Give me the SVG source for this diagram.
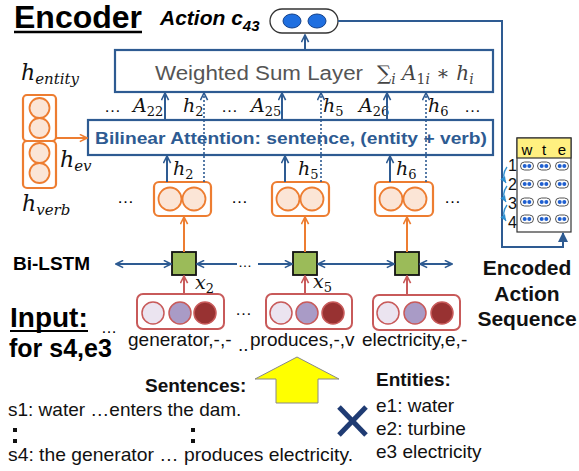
<svg xmlns="http://www.w3.org/2000/svg" width="579" height="471" viewBox="0 0 579 471">
<style>
.sans{font-family:"Liberation Sans",Arial,sans-serif}
.b{font-weight:bold}
.math{font-family:"DejaVu Serif","Liberation Serif",serif;font-style:italic;fill:#111}
.up{font-style:normal}
.bl{stroke:#2e5b92;stroke-width:2;fill:none}
.dot{stroke:#2e5b92;stroke-width:1.6;stroke-dasharray:2,2;fill:none}
.or{stroke:#ed7d31;stroke-width:2;fill:none}
.rd{stroke:#c85a5a;stroke-width:2;fill:none}
.hbox{fill:#fff;stroke:#ed7d31;stroke-width:2.2}
.hc{fill:#fbe5d6;stroke:#ed7d31;stroke-width:1.8}
.xbox{fill:#fff;stroke:#c85a5a;stroke-width:2}
.c1{fill:#ebe4f0;stroke:#c85a5a;stroke-width:1.5}
.c2{fill:#a99bc6;stroke:#c85a5a;stroke-width:1.5}
.c3{fill:#983232;stroke:#c85a5a;stroke-width:1.5}
.sq{fill:#9bbb59;stroke:#111;stroke-width:1.8}
.pill{fill:#fff;stroke:#555;stroke-width:1}
.pd{fill:#1f5fd0}
</style>
<defs>
<marker id="ab" viewBox="0 0 10 10" refX="9" refY="5" markerWidth="9" markerHeight="9" markerUnits="userSpaceOnUse" orient="auto-start-reverse"><path d="M1,1 L9,5 L1,9" fill="none" stroke="#2e5b92" stroke-width="1.8"/></marker>
<marker id="ao" viewBox="0 0 10 10" refX="9" refY="5" markerWidth="9" markerHeight="9" markerUnits="userSpaceOnUse" orient="auto"><path d="M1,1 L9,5 L1,9" fill="none" stroke="#ed7d31" stroke-width="1.8"/></marker>
<marker id="ar" viewBox="0 0 10 10" refX="9" refY="5" markerWidth="9" markerHeight="9" markerUnits="userSpaceOnUse" orient="auto"><path d="M1,1 L9,5 L1,9" fill="none" stroke="#c85a5a" stroke-width="1.8"/></marker>
<marker id="abf" viewBox="0 0 10 10" refX="9" refY="5" markerWidth="10" markerHeight="10" markerUnits="userSpaceOnUse" orient="auto"><path d="M0,0 L10,5 L0,10 Z" fill="#2e5b92"/></marker>
<marker id="abs" viewBox="0 0 10 10" refX="9" refY="5" markerWidth="7" markerHeight="7" markerUnits="userSpaceOnUse" orient="auto"><path d="M0,1 L9,5 L0,9 Z" fill="#2e8fd0"/></marker>
</defs>
<rect width="579" height="471" fill="#fff"/>

<g id="title">
<text x="14" y="28" class="sans b" font-size="31" textLength="128" lengthAdjust="spacingAndGlyphs">Encoder</text>
<line x1="14" y1="32" x2="142" y2="32" stroke="#000" stroke-width="2.5"/>
<text x="160" y="25" class="sans b" font-size="21" font-style="italic">Action c<tspan font-size="15" dy="6">43</tspan></text>
</g>

<g id="action">
<rect x="270" y="9" width="68" height="24" rx="12" fill="#fff" stroke="#333" stroke-width="1.3"/>
<ellipse cx="292" cy="21" rx="9" ry="7" fill="#1f6fe0" stroke="#14418a" stroke-width="1"/>
<ellipse cx="317" cy="21" rx="9" ry="7" fill="#1f6fe0" stroke="#14418a" stroke-width="1"/>
</g>

<g id="weighted-sum">
<rect x="115" y="50" width="378" height="42" fill="#fff" stroke="#2e5b92" stroke-width="2.2"/>
<text x="155" y="80" class="sans" font-size="20" fill="#555" textLength="208" lengthAdjust="spacingAndGlyphs">Weighted Sum Layer</text>
<text x="377" y="80" font-size="20" class="math" style="fill:#444"><tspan class="up">∑</tspan><tspan font-size="14" dy="4">i</tspan><tspan dy="-4"> A</tspan><tspan font-size="14" class="up" dy="4">1</tspan><tspan font-size="14">i</tspan><tspan dy="-4" class="up"> ∗ </tspan><tspan>h</tspan><tspan font-size="14" dy="4">i</tspan></text>
</g>

<g id="attention">
<rect x="88" y="120" width="405" height="35" fill="#fff" stroke="#2e5b92" stroke-width="2.2"/>
<text x="95" y="144" class="sans b" font-size="17" fill="#2e5b92" textLength="392" lengthAdjust="spacingAndGlyphs">Bilinear Attention: sentence, (entity + verb)</text>
</g>

<g id="att-labels" class="math" font-size="19">
<text x="104" y="112" class="sans up" font-size="17">…</text>
<text x="133" y="112">A<tspan font-size="13" class="up" dy="4">22</tspan></text>
<text x="183" y="112">h<tspan font-size="13" class="up" dy="4">2</tspan></text>
<text x="221" y="112" class="sans up" font-size="17">…</text>
<text x="251" y="112">A<tspan font-size="13" class="up" dy="4">25</tspan></text>
<text x="323" y="112">h<tspan font-size="13" class="up" dy="4">5</tspan></text>
<text x="359" y="112">A<tspan font-size="13" class="up" dy="4">26</tspan></text>
<text x="428" y="112">h<tspan font-size="13" class="up" dy="4">6</tspan></text>
<text x="464" y="112" class="sans up" font-size="17">…</text>
</g>

<g id="entity-verb">
<text x="21" y="80" class="math" font-size="22">h<tspan font-size="15" dy="4">entity</tspan></text>
<rect x="23" y="95" width="33" height="46" rx="4" class="hbox"/>
<circle cx="39.5" cy="108" r="10" class="hc"/>
<circle cx="39.5" cy="128" r="10" class="hc"/>
<rect x="23" y="141" width="33" height="47" rx="4" class="hbox"/>
<circle cx="39.5" cy="153" r="10" class="hc"/>
<circle cx="39.5" cy="173" r="10" class="hc"/>
<text x="60" y="167" class="math" font-size="22">h<tspan font-size="15" dy="4">ev</tspan></text>
<text x="22" y="211" class="math" font-size="22">h<tspan font-size="15" dy="4">verb</tspan></text>
</g>

<g id="h2">
<rect x="154" y="182" width="57" height="34" rx="5" class="hbox"/>
<circle cx="170" cy="199" r="11.5" class="hc"/><circle cx="194" cy="199" r="11.5" class="hc"/>
<text x="173" y="175" class="math" font-size="19">h<tspan font-size="13" class="up" dy="4">2</tspan></text>
</g>
<g id="h5">
<rect x="272" y="182" width="57" height="34" rx="5" class="hbox"/>
<circle cx="288" cy="199" r="11.5" class="hc"/><circle cx="312" cy="199" r="11.5" class="hc"/>
<text x="298" y="175" class="math" font-size="19">h<tspan font-size="13" class="up" dy="4">5</tspan></text>
</g>
<g id="h6">
<rect x="375" y="182" width="58" height="34" rx="5" class="hbox"/>
<circle cx="391" cy="199" r="11.5" class="hc"/><circle cx="415" cy="199" r="11.5" class="hc"/>
<text x="396" y="175" class="math" font-size="19">h<tspan font-size="13" class="up" dy="4">6</tspan></text>
</g>
<g id="h-dots" class="sans" font-size="17">
<text x="117" y="203">…</text>
<text x="231" y="203">…</text>
<text x="444" y="203">…</text>
</g>

<g id="bilstm-label"><text x="13" y="270" class="sans b" font-size="19">Bi-LSTM</text></g>
<g id="lstm2"><rect x="172" y="252" width="24" height="23" class="sq"/></g>
<g id="lstm5"><rect x="293" y="252" width="24" height="23" class="sq"/></g>
<g id="lstm6"><rect x="395" y="252" width="24" height="23" class="sq"/></g>

<g id="x2">
<rect x="137" y="294" width="87" height="35" rx="6" class="xbox"/>
<circle cx="153" cy="313" r="11" class="c1"/><circle cx="180" cy="313" r="11" class="c2"/><circle cx="205" cy="313" r="11" class="c3"/>
<text x="195" y="289" class="math" font-size="19">x<tspan font-size="13" class="up" dy="4">2</tspan></text>
</g>
<g id="x5">
<rect x="266" y="294" width="86" height="35" rx="6" class="xbox"/>
<circle cx="281" cy="313" r="11" class="c1"/><circle cx="307" cy="313" r="11" class="c2"/><circle cx="333" cy="313" r="11" class="c3"/>
<text x="313" y="288" class="math" font-size="19">x<tspan font-size="13" class="up" dy="4">5</tspan></text>
</g>
<g id="x6">
<rect x="373" y="295" width="87" height="35" rx="6" class="xbox"/>
<circle cx="388" cy="313" r="11" class="c1"/><circle cx="415" cy="313" r="11" class="c2"/><circle cx="442" cy="313" r="11" class="c3"/>
</g>
<g id="input-labels" class="sans" font-size="19" fill="#111">
<text x="235" y="315" font-size="17">…</text>
<text x="128" y="346">generator,-,-</text>
<text x="238" y="351">..</text>
<text x="250" y="346">produces,-,v</text>
<text x="362" y="346">electricity,e,-</text>
</g>

<g id="input-title">
<text x="10" y="327" class="sans b" font-size="28">Input:</text>
<line x1="10" y1="331" x2="88" y2="331" stroke="#000" stroke-width="2.2"/>
<text x="9" y="357" class="sans b" font-size="25">for s4,e3</text>
<text x="101" y="333" class="sans" font-size="16">…</text>
</g>

<g id="yellow-arrow">
<polygon points="297,357 339,379 318,379 318,403 276,403 276,379 255,379" fill="#ffff00" stroke="#888" stroke-width="1"/>
</g>

<g id="sentences" class="sans" font-size="19" fill="#111">
<text x="145" y="392" class="b" font-size="19">Sentences:</text>
<text x="8" y="416">s1: water …enters the dam.</text>
<rect x="13" y="428" width="4" height="4" fill="#111"/><rect x="13" y="439" width="4" height="4" fill="#111"/>
<rect x="191" y="428" width="4" height="4" fill="#111"/><rect x="191" y="439" width="4" height="4" fill="#111"/>
<text x="8" y="461" textLength="345" lengthAdjust="spacingAndGlyphs">s4: the generator … produces electricity.</text>
</g>

<g id="cross">
<line x1="339" y1="407" x2="366" y2="435" stroke="#1f3b73" stroke-width="5"/>
<line x1="366" y1="407" x2="339" y2="435" stroke="#1f3b73" stroke-width="5"/>
</g>

<g id="entities" class="sans" font-size="19" fill="#111">
<text x="376" y="386" class="b">Entities:</text>
<text x="376" y="412">e1: water</text>
<text x="376" y="435">e2: turbine</text>
<text x="376" y="458">e3 electricity</text>
</g>

<g id="encoded-label" class="sans b" font-size="21" text-anchor="middle" fill="#111">
<text x="527" y="275">Encoded</text>
<text x="527" y="301">Action</text>
<text x="527" y="326">Sequence</text>
</g>

<g id="encoded-table">
<rect x="517" y="138" width="54" height="94" fill="#fff" stroke="#333" stroke-width="1.2"/>
<rect x="517" y="138" width="54" height="20" fill="#fff080" stroke="#333" stroke-width="1.2"/>
<text x="527" y="155" class="sans" font-size="15" text-anchor="middle">w</text>
<text x="544" y="155" class="sans" font-size="15" text-anchor="middle">t</text>
<text x="562" y="155" class="sans" font-size="15" text-anchor="middle">e</text>
<g class="sans" font-size="16" text-anchor="end" fill="#111">
<text x="517" y="171">1</text><text x="517" y="190">2</text><text x="517" y="209">3</text><text x="517" y="228">4</text>
</g>
<g id="pills">
<g transform="translate(527,166)"><rect x="-6.5" y="-4" width="13" height="8" rx="4" class="pill"/><circle cx="-2.3" cy="0" r="2" class="pd"/><circle cx="2.3" cy="0" r="2" class="pd"/></g>
<g transform="translate(544,166)"><rect x="-6.5" y="-4" width="13" height="8" rx="4" class="pill"/><circle cx="-2.3" cy="0" r="2" class="pd"/><circle cx="2.3" cy="0" r="2" class="pd"/></g>
<g transform="translate(562,166)"><rect x="-6.5" y="-4" width="13" height="8" rx="4" class="pill"/><circle cx="-2.3" cy="0" r="2" class="pd"/><circle cx="2.3" cy="0" r="2" class="pd"/></g>
<g transform="translate(527,184)"><rect x="-6.5" y="-4" width="13" height="8" rx="4" class="pill"/><circle cx="-2.3" cy="0" r="2" class="pd"/><circle cx="2.3" cy="0" r="2" class="pd"/></g>
<g transform="translate(544,184)"><rect x="-6.5" y="-4" width="13" height="8" rx="4" class="pill"/><circle cx="-2.3" cy="0" r="2" class="pd"/><circle cx="2.3" cy="0" r="2" class="pd"/></g>
<g transform="translate(562,184)"><rect x="-6.5" y="-4" width="13" height="8" rx="4" class="pill"/><circle cx="-2.3" cy="0" r="2" class="pd"/><circle cx="2.3" cy="0" r="2" class="pd"/></g>
<g transform="translate(527,202)"><rect x="-6.5" y="-4" width="13" height="8" rx="4" class="pill"/><circle cx="-2.3" cy="0" r="2" class="pd"/><circle cx="2.3" cy="0" r="2" class="pd"/></g>
<g transform="translate(544,202)"><rect x="-6.5" y="-4" width="13" height="8" rx="4" class="pill"/><circle cx="-2.3" cy="0" r="2" class="pd"/><circle cx="2.3" cy="0" r="2" class="pd"/></g>
<g transform="translate(562,202)"><rect x="-6.5" y="-4" width="13" height="8" rx="4" class="pill"/><circle cx="-2.3" cy="0" r="2" class="pd"/><circle cx="2.3" cy="0" r="2" class="pd"/></g>
<g transform="translate(527,219)"><rect x="-6.5" y="-4" width="13" height="8" rx="4" class="pill"/><circle cx="-2.3" cy="0" r="2" class="pd"/><circle cx="2.3" cy="0" r="2" class="pd"/></g>
<g transform="translate(544,219)"><rect x="-6.5" y="-4" width="13" height="8" rx="4" class="pill"/><circle cx="-2.3" cy="0" r="2" class="pd"/><circle cx="2.3" cy="0" r="2" class="pd"/></g>
<g transform="translate(562,219)"><rect x="-6.5" y="-4" width="13" height="8" rx="4" class="pill"/><circle cx="-2.3" cy="0" r="2" class="pd"/><circle cx="2.3" cy="0" r="2" class="pd"/></g>
</g>
</g>

<g id="connectors">
<line x1="305" y1="50" x2="305" y2="35" class="bl" marker-end="url(#ab)"/>
<polyline points="338,21 502,21 502,247 563,247 563,233" class="bl" stroke-width="2" marker-end="url(#abf)"/>
<path d="M507,167 Q501,175 506,183" fill="none" stroke="#2e8fd0" stroke-width="1.3" marker-end="url(#abs)"/>
<path d="M507,186 Q501,194 506,202" fill="none" stroke="#2e8fd0" stroke-width="1.3" marker-end="url(#abs)"/>
<path d="M507,205 Q501,213 506,221" fill="none" stroke="#2e8fd0" stroke-width="1.3" marker-end="url(#abs)"/>
<line x1="165" y1="120" x2="165" y2="93" class="bl" marker-end="url(#ab)"/>
<line x1="282" y1="120" x2="282" y2="93" class="bl" marker-end="url(#ab)"/>
<line x1="387" y1="120" x2="387" y2="93" class="bl" marker-end="url(#ab)"/>
<line x1="204" y1="182" x2="204" y2="93" class="dot" marker-end="url(#ab)"/>
<line x1="321" y1="182" x2="321" y2="93" class="dot" marker-end="url(#ab)"/>
<line x1="426" y1="182" x2="426" y2="93" class="dot" marker-end="url(#ab)"/>
<line x1="167" y1="182" x2="167" y2="156" class="bl" marker-end="url(#ab)"/>
<line x1="285" y1="182" x2="285" y2="156" class="bl" marker-end="url(#ab)"/>
<line x1="390" y1="182" x2="390" y2="156" class="bl" marker-end="url(#ab)"/>
<line x1="56" y1="138" x2="87" y2="138" class="or" marker-end="url(#ao)"/>
<line x1="184" y1="252" x2="184" y2="217" class="or" marker-end="url(#ao)"/>
<line x1="305" y1="252" x2="305" y2="217" class="or" marker-end="url(#ao)"/>
<line x1="407" y1="252" x2="407" y2="217" class="or" marker-end="url(#ao)"/>
<line x1="184" y1="294" x2="184" y2="276" class="rd" marker-end="url(#ar)"/>
<line x1="305" y1="294" x2="305" y2="276" class="rd" marker-end="url(#ar)"/>
<line x1="407" y1="295" x2="407" y2="276" class="rd" marker-end="url(#ar)"/>
<line x1="116" y1="264" x2="171" y2="264" class="bl" marker-start="url(#ab)" marker-end="url(#ab)"/>
<line x1="197" y1="264" x2="292" y2="264" class="bl" marker-start="url(#ab)" marker-end="url(#ab)"/>
<rect x="237" y="259" width="21" height="10" fill="#fff"/>
<text x="238" y="267" class="sans" font-size="14">…</text>
<line x1="318" y1="264" x2="394" y2="264" class="bl" marker-start="url(#ab)" marker-end="url(#ab)"/>
<line x1="420" y1="264" x2="452" y2="264" class="bl" marker-start="url(#ab)" marker-end="url(#ab)"/>
</g>
</svg>
